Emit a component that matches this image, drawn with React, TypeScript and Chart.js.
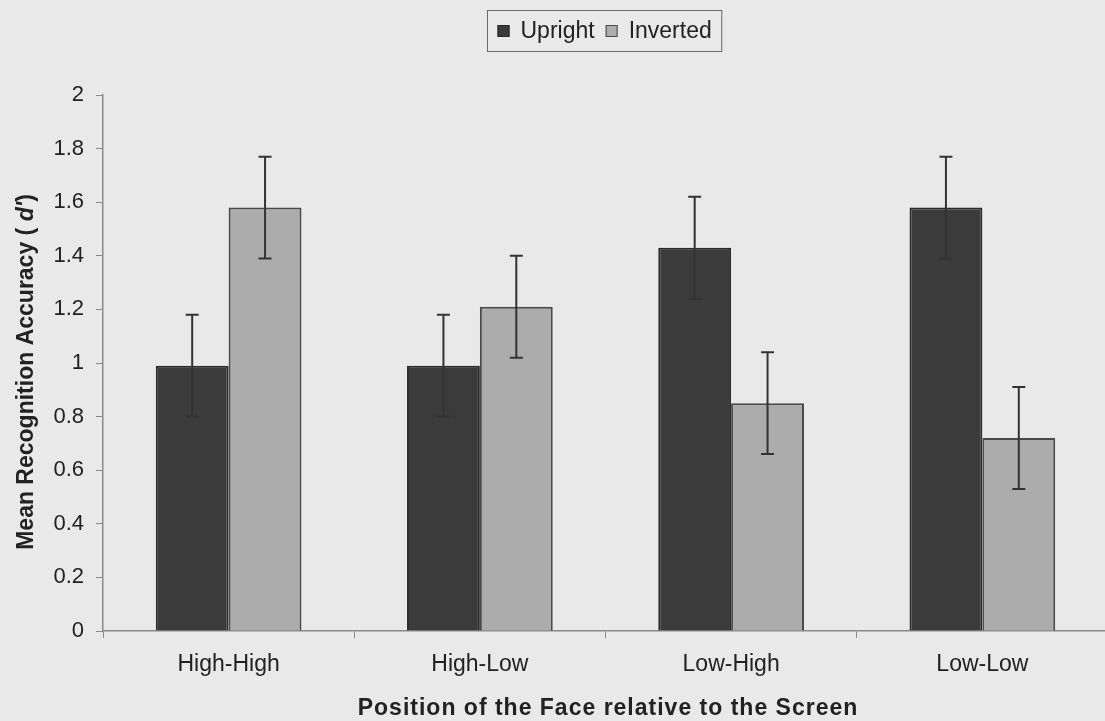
import React, { useEffect, useRef } from "react";
import { Chart, registerables } from "chart.js";

Chart.register(...registerables);

const categories = ["High-High", "High-Low", "Low-High", "Low-Low"];
const seriesNames = ["Upright", "Inverted"];
const uprightValues = [0.99, 0.99, 1.43, 1.58];
const invertedValues = [1.58, 1.21, 0.85, 0.72];
const uprightErrors = [0.19, 0.19, 0.19, 0.19];
const invertedErrors = [0.19, 0.19, 0.19, 0.19];
const yMin = 0;
const yMax = 2;
const yStep = 0.2;
const xTitle = "Position of the Face relative to the Screen";
const yTitleParts = ["Mean Recognition Accuracy ( ", "d'", ")"];

const W = 1110;
const H = 721;
const BG = "#e9e9e9";
const FILLS = ["#3b3b3b", "#acacac"];
const BORDERS = ["#2a2a2a", "#4a4a4a"];
const FONT = "'Liberation Sans', Arial, sans-serif";

const bgPlugin = {
  id: "bg",
  beforeDraw(chart: any) {
    const { ctx } = chart;
    ctx.save();
    ctx.fillStyle = BG;
    ctx.fillRect(0, 0, chart.width, chart.height);
    ctx.restore();
  },
};

const errorBarPlugin = {
  id: "errorBars",
  afterDatasetsDraw(chart: any) {
    const { ctx } = chart;
    const y = chart.scales.y;
    chart.data.datasets.forEach((ds: any, i: number) => {
      const meta = chart.getDatasetMeta(i);
      meta.data.forEach((bar: any, j: number) => {
        const v = ds.data[j];
        const e = ds.errors[j];
        const x = bar.x;
        const yt = y.getPixelForValue(v + e);
        const yb = y.getPixelForValue(v - e);
        ctx.save();
        ctx.strokeStyle = "#333333";
        ctx.lineWidth = 2;
        ctx.beginPath();
        ctx.moveTo(x, yt);
        ctx.lineTo(x, yb);
        ctx.moveTo(x - 6.5, yt);
        ctx.lineTo(x + 6.5, yt);
        ctx.moveTo(x - 6.5, yb);
        ctx.lineTo(x + 6.5, yb);
        ctx.stroke();
        ctx.restore();
      });
    });
  },
};

const legendPlugin = {
  id: "boxLegend",
  afterDraw(chart: any) {
    const { ctx } = chart;
    ctx.save();
    ctx.font = `23px ${FONT}`;
    ctx.textBaseline = "middle";
    const box = 12;
    const gap = 11;
    const itemGap = 11;
    const widths = chart.data.datasets.map((ds: any) => box + gap + ctx.measureText(ds.label).width);
    const total = widths.reduce((a: number, b: number) => a + b, 0) + itemGap * (widths.length - 1);
    const padX = 10;
    const cx = 604.5;
    const left = Math.round(cx - total / 2 - padX) + 0.5;
    const top = 10.5;
    const h = 41;
    ctx.strokeStyle = "#6a6a6a";
    ctx.lineWidth = 1;
    ctx.strokeRect(left, top, total + padX * 2, h);
    let x = left + padX;
    const cy = top + h / 2;
    chart.data.datasets.forEach((ds: any, i: number) => {
      ctx.fillStyle = ds.backgroundColor;
      ctx.fillRect(x, cy - box / 2, box, box);
      ctx.strokeStyle = ds.borderColor;
      ctx.lineWidth = 1;
      ctx.strokeRect(x + 0.5, cy - box / 2 + 0.5, box - 1, box - 1);
      ctx.fillStyle = "#222";
      ctx.fillText(ds.label, x + box + gap, cy + 1);
      x += widths[i] + itemGap;
    });
    ctx.restore();
  },
};

const titlesPlugin = {
  id: "axisTitles",
  afterDraw(chart: any) {
    const { ctx } = chart;
    // y-axis title with italic d'
    const fonts = [`bold 23px ${FONT}`, `italic bold 23px ${FONT}`, `bold 23px ${FONT}`];
    ctx.save();
    const widths = yTitleParts.map((t, i) => {
      ctx.font = fonts[i];
      return ctx.measureText(t).width;
    });
    const total = widths.reduce((a, b) => a + b, 0);
    ctx.translate(27, 372);
    ctx.rotate(-Math.PI / 2);
    ctx.fillStyle = "#222";
    ctx.textBaseline = "middle";
    let x = -total / 2;
    yTitleParts.forEach((t, i) => {
      ctx.font = fonts[i];
      ctx.fillText(t, x, 0);
      x += widths[i];
    });
    ctx.restore();

    // x-axis title
    ctx.save();
    ctx.font = `bold 23px ${FONT}`;
    try {
      (ctx as any).letterSpacing = "1px";
    } catch (e) {}
    ctx.fillStyle = "#222";
    ctx.textBaseline = "middle";
    ctx.textAlign = "center";
    ctx.fillText(xTitle, 608, 709);
    ctx.restore();
  },
};

export default function App() {
  const ref = useRef<HTMLCanvasElement>(null);

  useEffect(() => {
    if (!ref.current) return;
    const chart = new Chart(ref.current, {
      type: "bar",
      data: {
        labels: categories,
        datasets: [
          {
            label: seriesNames[0],
            data: uprightValues,
            errors: uprightErrors,
            backgroundColor: FILLS[0],
            borderColor: BORDERS[0],
            borderWidth: 2,
            categoryPercentage: 0.58,
            barPercentage: 1.0,
          } as any,
          {
            label: seriesNames[1],
            data: invertedValues,
            errors: invertedErrors,
            backgroundColor: FILLS[1],
            borderColor: BORDERS[1],
            borderWidth: 2,
            categoryPercentage: 0.58,
            barPercentage: 1.0,
          } as any,
        ],
      },
      options: {
        responsive: false,
        animation: false,
        devicePixelRatio: 1,
        layout: { padding: { top: 95, right: 2, left: 0, bottom: 0 } },
        plugins: {
          legend: { display: false },
          tooltip: { enabled: false },
        },
        scales: {
          x: {
            grid: {
              display: true,
              drawOnChartArea: false,
              drawTicks: true,
              tickLength: 7,
              color: "#8a8a8a",
              offset: true,
            },
            border: { display: true, color: "#8a8a8a", width: 1.5 },
            ticks: {
              color: "#222",
              font: { family: FONT, size: 23 },
              padding: 13,
              maxRotation: 0,
            },
            title: { display: false },
            afterFit(scale: any) {
              scale.height = H - 631;
            },
          },
          y: {
            min: yMin,
            max: yMax,
            grid: {
              display: true,
              drawOnChartArea: false,
              drawTicks: true,
              tickLength: 7,
              color: "#8a8a8a",
            },
            border: { display: true, color: "#8a8a8a", width: 1.5 },
            ticks: {
              stepSize: yStep,
              color: "#222",
              font: { family: FONT, size: 22 },
              padding: 12,
              callback: (v: any) => String(Number(Number(v).toFixed(1))),
            },
            afterFit(scale: any) {
              scale.width = 103;
            },
          },
        },
      },
      plugins: [bgPlugin, errorBarPlugin, legendPlugin, titlesPlugin],
    } as any);
    return () => chart.destroy();
  }, []);

  return (
    <div
      style={{
        position: "fixed",
        left: 0,
        top: 0,
        width: 1105,
        height: 721,
        overflow: "hidden",
        background: BG,
      }}
    >
      <canvas ref={ref} width={W} height={H} style={{ display: "block" }} />
    </div>
  );
}
